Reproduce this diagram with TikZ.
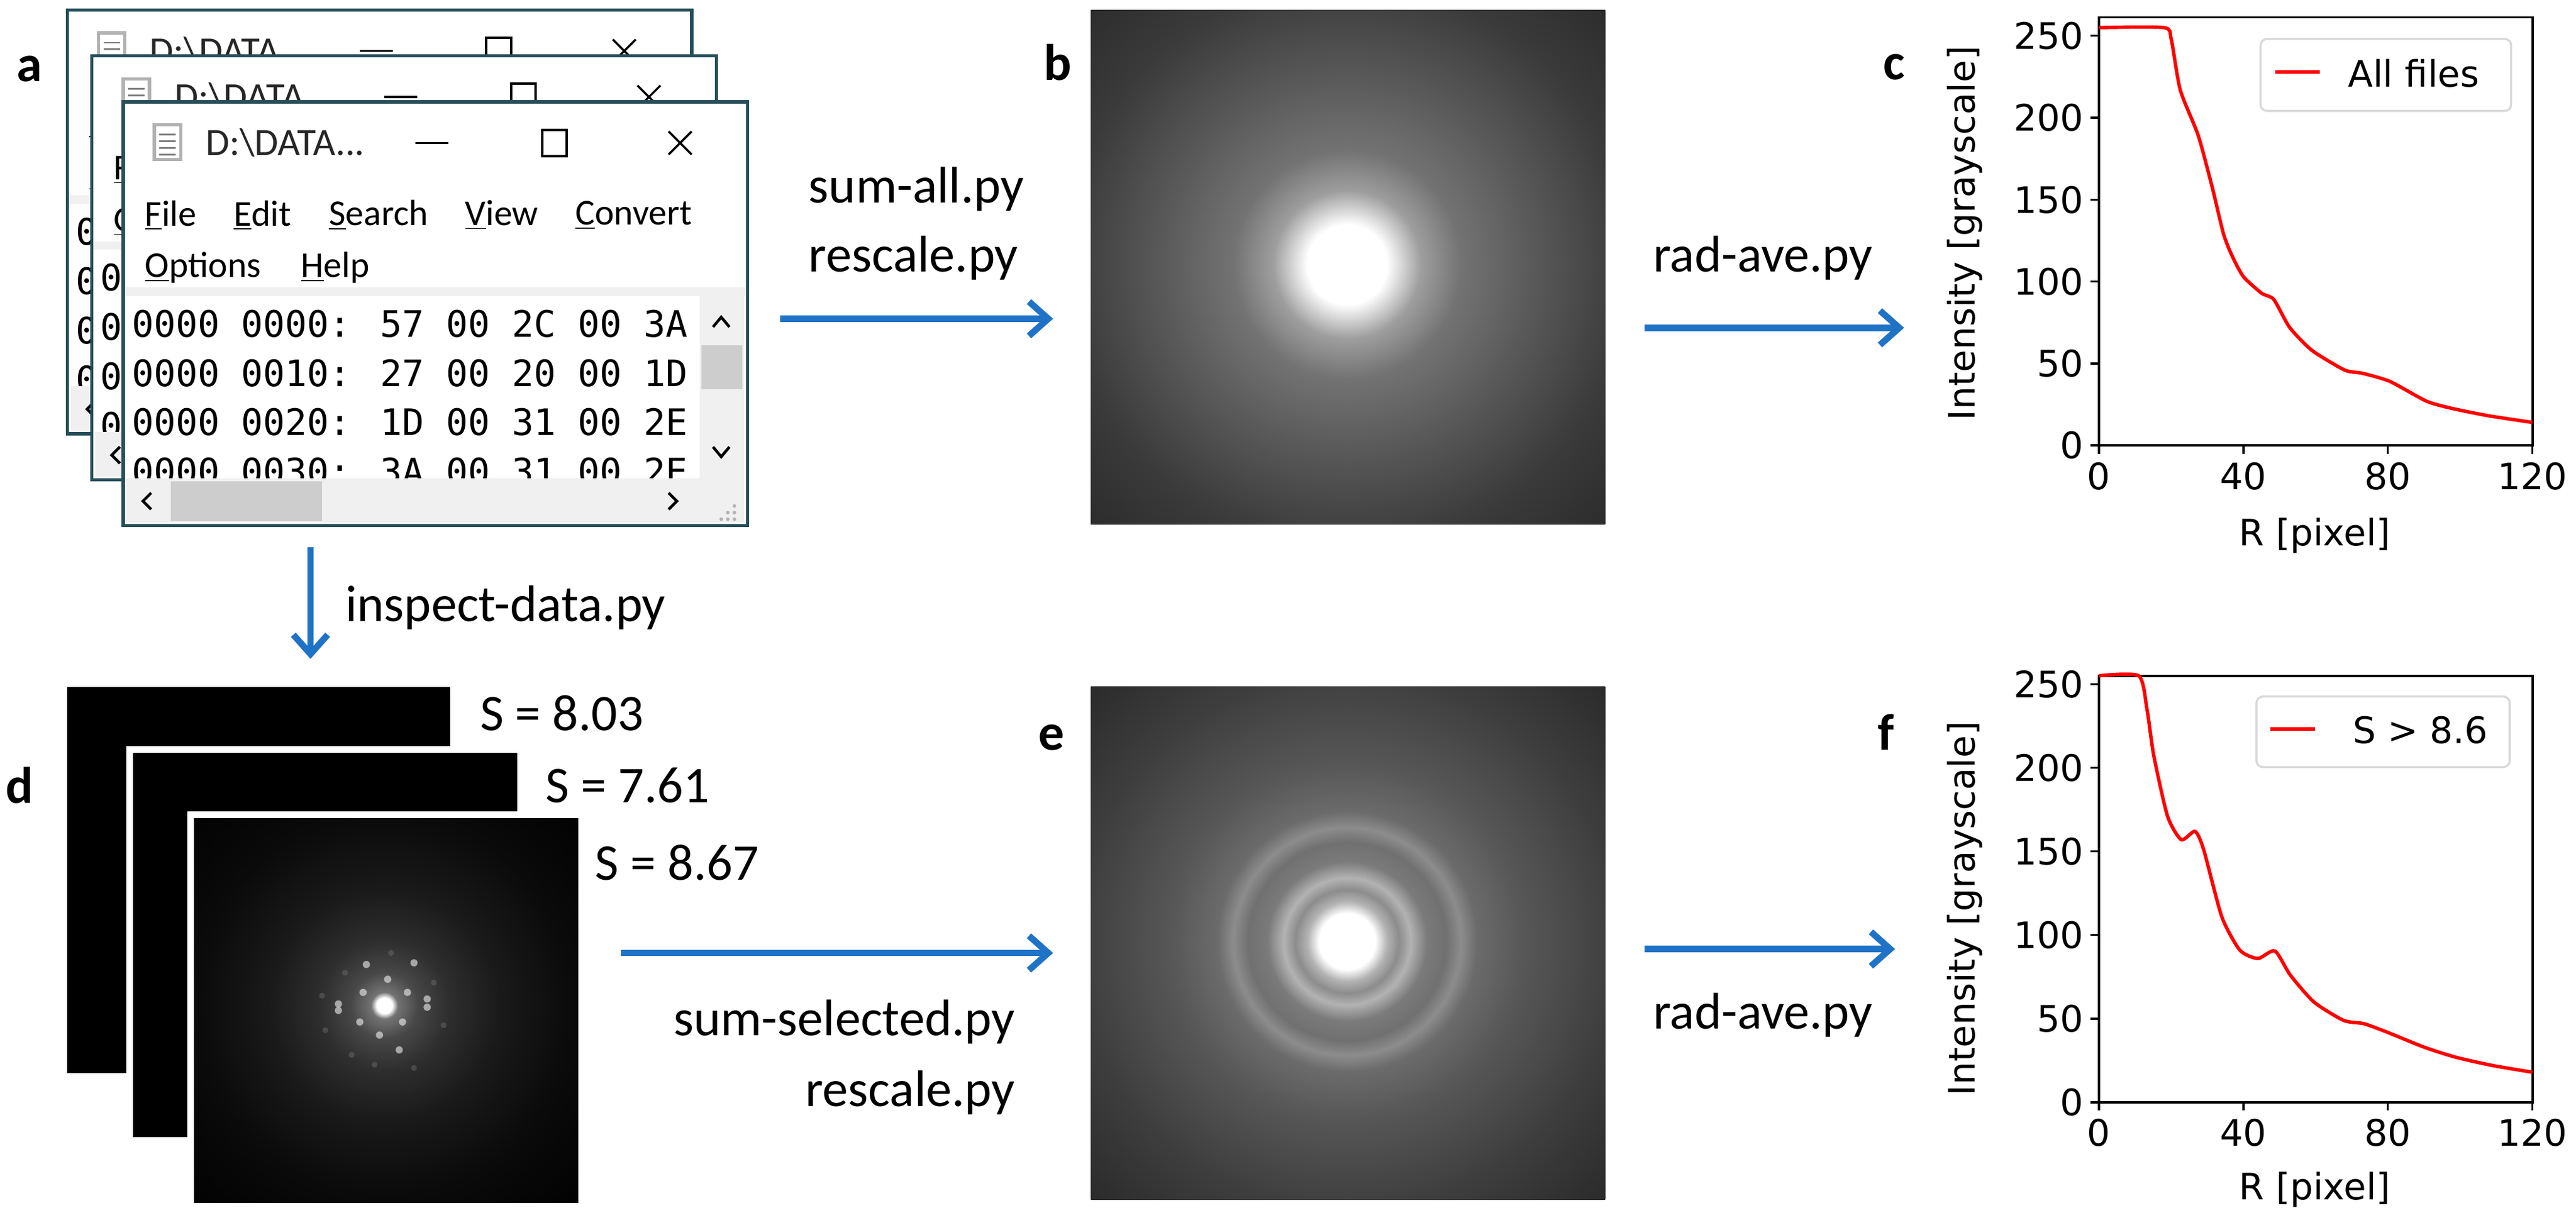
\documentclass[tikz,border=0pt]{standalone}
\usepackage{fontspec}
\setmainfont{Carlito}
\newfontfamily\monof{DejaVu Sans Mono}
\newfontfamily\plotf{DejaVu Sans}
\usetikzlibrary{arrows.meta}
\definecolor{arrblue}{RGB}{31,115,198}
\definecolor{winborder}{RGB}{40,80,90}
\definecolor{bar}{RGB}{240,240,240}
\definecolor{thumb}{RGB}{205,205,205}
\pgfdeclareradialshading{bshade}{\pgfpoint{0bp}{0bp}}{color(0bp)=(white);color(2.7bp)=(white);color(5bp)=(black!38);color(7.7bp)=(black!55);color(12.6bp)=(black!65);color(19bp)=(black!77);color(28bp)=(black!86);color(50bp)=(black!88)}
\pgfdeclareradialshading{eshade}{\pgfpoint{0bp}{0bp}}{color(0bp)=(white);color(1.9bp)=(white);color(2.7bp)=(black!30);color(3.5bp)=(black!45);color(4.3bp)=(black!30);color(5.4bp)=(black!52);color(6.7bp)=(black!56);color(7.7bp)=(black!45);color(8.8bp)=(black!58);color(12bp)=(black!66);color(18.4bp)=(black!76);color(27bp)=(black!86);color(50bp)=(black!88)}
\pgfdeclareradialshading{dshade}{\pgfpoint{0bp}{0bp}}{color(0bp)=(white);color(0.7bp)=(white);color(1.2bp)=(black!55);color(3bp)=(black!72);color(5.8bp)=(black!82);color(10.4bp)=(black!90);color(17bp)=(black!96);color(26bp)=(black);color(50bp)=(black)}
\tikzset{
  flow/.style={draw=arrblue,line width=3pt,-{Straight Barb[length=9pt,width=16pt,line width=3pt]}},
  lbl/.style={font=\fontsize{24}{28}\selectfont,inner sep=0pt},
  panel/.style={font=\fontsize{24}{28}\selectfont\bfseries,inner sep=0pt},
  menu/.style={font=\fontsize{17}{20}\selectfont,anchor=west,inner sep=0pt},
  mono/.style={font=\monof\fontsize{17}{20}\selectfont,anchor=west,inner sep=0pt},
  tick/.style={font=\plotf\fontsize{17}{20}\selectfont,inner sep=0pt},
  curve/.style={red,line width=1.6pt,line join=round},
}
\newcommand{\mywin}[3]{%
\begin{scope}[shift={(#1,#2)}]
  \fill[white] (0,0) rectangle (380,258);
  \fill[gray!60] (18,13) rectangle (36,36);
  \fill[white] (20,15) rectangle (34,34);
  \foreach \yy in {20,24,28,32} \draw[gray,line width=0.8pt] (22,\yy) -- (32,\yy);
  \node[menu,font=\fontsize{18}{20}\selectfont,text=black!85] (#3t) at (50,25) {D:\textbackslash DATA...};
  \draw[line width=1pt] (178,25) -- (198,25);
  \draw[line width=1.2pt] (255,17) rectangle (270,33);
  \draw[line width=1pt] (332,18) -- (346,32) (332,32) -- (346,18);
  \node[menu] (#3m1) at (13,69) {\underline{F}ile};
  \node[menu] (#3m2) at (67,69) {\underline{E}dit};
  \node[menu] (#3m3) at (125,69) {\underline{S}earch};
  \node[menu] (#3m4) at (208,69) {\underline{V}iew};
  \node[menu] (#3m5) at (275,69) {\underline{C}onvert};
  \node[menu] (#3m6) at (13,101) {\underline{O}ptions};
  \node[menu] (#3m7) at (108,101) {\underline{H}elp};
  \fill[bar] (0,113) rectangle (380,118);
  \begin{scope}
    \clip (2,118) rectangle (351,229);
    \node[mono] (#3r1) at (5,135) {0000 0000: 57 00 2C 00   3A};
    \node[mono] (#3r2) at (5,165) {0000 0010: 27 00 20 00   1D};
    \node[mono] (#3r3) at (5,195) {0000 0020: 1D 00 31 00   2E};
    \node[mono] (#3r4) at (5,225) {0000 0030: 3A 00 31 00   2E};
  \end{scope}
  \fill[bar] (351,118) rectangle (378,229);
  \fill[thumb] (352,148) rectangle (377,175);
  \draw[line width=1.3pt] (359,137) -- (364,131) -- (369,137);
  \draw[line width=1.3pt] (359,210) -- (364,216) -- (369,210);
  \fill[bar] (2,229) rectangle (378,256);
  \fill[thumb] (29,231) rectangle (121,255);
  \draw[line width=1.3pt] (17,238) -- (12,243) -- (17,248);
  \draw[line width=1.3pt] (332,238) -- (337,243) -- (332,248);
  \foreach \p in {(372,246),(368,250),(372,250),(364,254),(368,254),(372,254)} \fill[gray!60] \p circle (1.1);
  \draw[winborder,line width=1.5pt] (0,0) rectangle (380,258);
\end{scope}}
\begin{document}
\begin{tikzpicture}[x=0.7664pt,y=-0.7664pt]
\useasboundingbox (0,0) rectangle (1568,745.2);
\fill[white] (0,0) rectangle (1568,745.2);
% panel a
\node[panel] (la) at (18,42) {a};
\mywin{41}{6}{wA}
\mywin{56}{34}{wB}
\mywin{75}{62}{wC}
\coordinate (aout) at (475,194);
\coordinate (adown) at (189,333);
% panel b
\node[panel] (lb) at (644,38) {b};
\begin{scope}
  \clip (664,6) rectangle (977,319);
  \fill[black!88] (664,6) rectangle (977,319);
  \shade[shading=bshade] (820,161) circle (225);
\end{scope}
\node[inner sep=0pt] (bimg) at (820.5,162.5) {};
\node[lbl,anchor=west] (t1) at (492,115) {sum-all.py};
\node[lbl,anchor=west] (t2) at (492,157) {rescale.py};
\draw[flow] (aout) -- (641,194) coordinate (bin);
% arrow b->c
\node[lbl,anchor=west] (t3) at (1006,157) {rad-ave.py};
\draw[flow] (1001,199.5) coordinate (bout) -- (1159,199.5) coordinate (cin);
% panel c
\node[panel] (lc) at (1153,41) {c};
\begin{scope}[shift={(1277.6,271.1)}]
  \draw[line width=1.1pt] (0,0) rectangle (263.9,-260.5);
  \foreach \v in {0,50,100,150,200,250} {\draw[line width=1pt] (0,-\v*0.9972) -- (-5,-\v*0.9972); \node[tick,anchor=east] at (-9,-\v*0.9972) {\v};}
  \foreach \v in {0,40,80,120} {\draw[line width=1pt] (\v*2.199,0) -- (\v*2.199,5); \node[tick,anchor=north] at (\v*2.199,10) {\v};}
  \draw[curve] plot[smooth,tension=0.4] coordinates {(0,-254.3) (18*2.199,-254.3) (20*2.199,-247.3) (22.5*2.199,-216.4) (27.5*2.199,-188.5) (31.3*2.199,-157.6) (34.5*2.199,-128.6) (37*2.199,-114.7) (40*2.199,-102.7) (45*2.199,-92.7) (48.4*2.199,-88.8) (52.8*2.199,-71.8) (59*2.199,-57.8) (68*2.199,-45.9) (73*2.199,-43.9) (80.6*2.199,-38.9) (90.7*2.199,-26.9) (98*2.199,-22.4) (108*2.199,-18) (120*2.199,-14)};
\end{scope}
\node[tick,rotate=90] (cyl) at (1196,142) {Intensity [grayscale]};
\node[tick] (cxl) at (1409,326) {R [pixel]};
\draw[black!15,line width=1pt,rounded corners=3pt,fill=white] (1376,23.7) rectangle (1528.5,67.5);
\draw[curve] (1385,43.8) -- (1412,43.8);
\node[tick,anchor=west] (cleg) at (1429,44.5) {All files};
% down arrow
\draw[flow] (adown) -- (189,401) coordinate (dtop);
\node[lbl,anchor=west] (t4) at (210,370) {inspect-data.py};
% panel d
\node[panel] (ld) at (12,478) {d};
\fill[black] (41,418) rectangle (274,653);
\fill[white] (77,454) rectangle (319,696);
\fill[black] (81,458) rectangle (315,692);
\fill[white] (114,494) rectangle (356,736);
\begin{scope}
  \clip (118,498) rectangle (352,732);
  \fill[black] (118,498) rectangle (352,732);
  \shade[shading=dshade] (234,612) circle (170);
  \foreach \p in {(236,596),(221,604),(248,604),(260,608),(206,611),(219,622),(245,622),(231,630),(243,639),(223,587),(252,586),(206,615),(260,613)} \fill[white,opacity=0.55] \p circle (2.2);
  \foreach \p in {(238,580),(210,592),(264,598),(196,606),(270,624),(228,648),(252,650),(214,642),(198,627)} \fill[gray,opacity=0.35] \p circle (1.8);
\end{scope}
\node[inner sep=0pt] (dimg) at (235,615) {};
\node[lbl,anchor=west] (s1) at (292,434) {S = 8.03};
\node[lbl,anchor=west] (s2) at (332,478) {S = 7.61};
\node[lbl,anchor=west] (s3) at (362,525) {S = 8.67};
% arrow d->e
\draw[flow] (378,580) coordinate (dout) -- (641,580) coordinate (ein);
\node[lbl,anchor=east] (t5) at (618,622) {sum-selected.py};
\node[lbl,anchor=east] (t6) at (618,665) {rescale.py};
% panel e
\node[panel] (le) at (640,449) {e};
\begin{scope}
  \clip (664,418) rectangle (977,730);
  \fill[black!88] (664,418) rectangle (977,730);
  \shade[shading=eshade] (820,573) circle (225);
\end{scope}
\node[inner sep=0pt] (eimg) at (820.5,574) {};
% arrow e->f
\draw[flow] (1001,577.6) coordinate (eout) -- (1153.5,577.6) coordinate (fin);
\node[lbl,anchor=west] (t7) at (1006,618) {rad-ave.py};
% panel f
\node[panel] (lf) at (1148,445.5) {f};
\begin{scope}[shift={(1277.6,670.9)}]
  \draw[line width=1.1pt] (0,0) rectangle (263.9,-259.5);
  \foreach \v in {0,50,100,150,200,250} {\draw[line width=1pt] (0,-\v*1.018) -- (-5,-\v*1.018); \node[tick,anchor=east] at (-9,-\v*1.018) {\v};}
  \foreach \v in {0,40,80,120} {\draw[line width=1pt] (\v*2.199,0) -- (\v*2.199,5); \node[tick,anchor=north] at (\v*2.199,10) {\v};}
  \draw[curve,yscale=1.018] plot[smooth,tension=0.4] coordinates {(0,-255) (11*2.199,-255) (13.3*2.199,-235) (15.2*2.199,-207) (19*2.199,-171) (22.8*2.199,-157) (26.6*2.199,-162) (29*2.199,-151) (34*2.199,-111) (39*2.199,-91) (44*2.199,-86) (48.7*2.199,-90.5) (53*2.199,-76) (59.5*2.199,-60) (67.7*2.199,-49) (73.4*2.199,-47) (79.7*2.199,-42) (90*2.199,-33) (98.7*2.199,-27) (109*2.199,-22) (120*2.199,-18)};
\end{scope}
\node[tick,rotate=90] (fyl) at (1196,553) {Intensity [grayscale]};
\node[tick] (fxl) at (1409,724) {R [pixel]};
\draw[black!15,line width=1pt,rounded corners=3pt,fill=white] (1373.5,423.9) rectangle (1527.6,466.9);
\draw[curve] (1382,443.6) -- (1409,443.6);
\node[tick,anchor=west] (fleg) at (1432,444.5) {S > 8.6};
\end{tikzpicture}
\end{document}
